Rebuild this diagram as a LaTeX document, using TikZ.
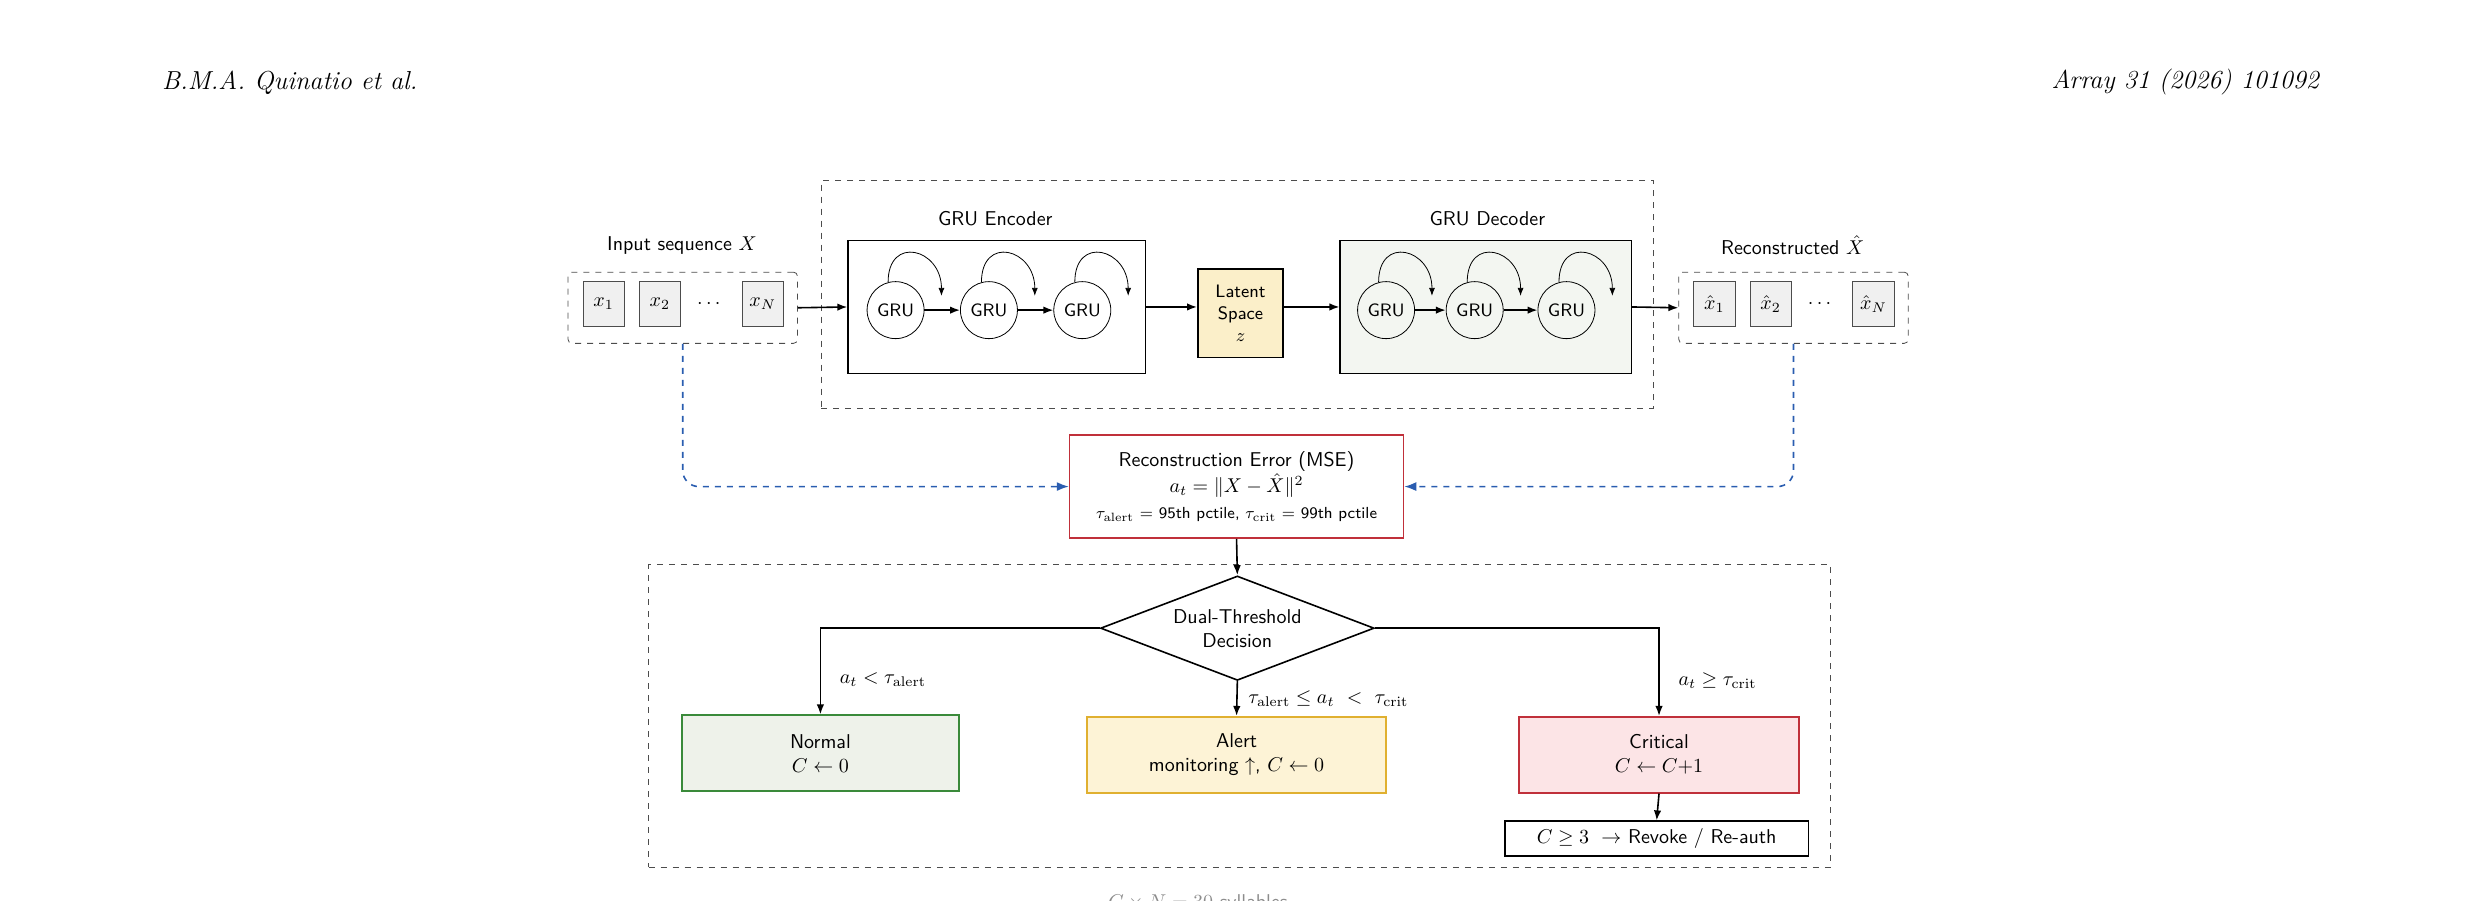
\documentclass[tikz,border=0pt]{standalone}
\usetikzlibrary{arrows.meta,shapes.geometric,calc}
\definecolor{mseRed}{HTML}{C0303A}
\definecolor{errBlue}{HTML}{2A5DB0}
\definecolor{okGreen}{HTML}{3A8A3A}
\definecolor{okFill}{HTML}{EEF2EA}
\definecolor{warnLine}{HTML}{E0B030}
\definecolor{warnFill}{HTML}{FDF3D6}
\definecolor{critFill}{HTML}{FCE4E6}
\definecolor{latFill}{HTML}{FBEFC9}
\definecolor{decFill}{HTML}{F3F6F1}
\tikzset{
  seqbox/.style={draw=black!70,fill=black!6,minimum width=20.6pt,minimum height=22.5pt,inner sep=0pt},
  groupbox/.style={draw=black!70,dashed,rounded corners=2pt,minimum width=114.7pt,minimum height=35.6pt},
  gru/.style={draw,circle,minimum size=28.5pt,inner sep=0pt,font=\sffamily\small},
  netbox/.style={draw,thick,minimum width=148.7pt,minimum height=66.4pt},
  outcome/.style={draw,thick,minimum height=38pt,align=center},
  arr/.style={-{Latex[length=5pt]},thick},
}
\begin{document}
\begin{tikzpicture}[x=0.791pt,y=-0.791pt,font=\sffamily]
\useasboundingbox (0,0) rectangle (1568,569);

% header
\node[anchor=west,font=\rmfamily\itshape\fontsize{13}{15}\selectfont] (hdrl) at (98,52) {B.M.A.\ Quinatio et al.};
\node[anchor=east,font=\rmfamily\itshape\fontsize{13}{15}\selectfont] (hdrr) at (1470,52) {Array 31 (2026) 101092};

%Shape: dashed frames
\node[draw=black!70,dashed,minimum width=416pt,minimum height=113.9pt] (ae) at (782,186) {};
\node[draw=black!70,dashed,minimum width=590.9pt,minimum height=151.1pt] (dzone) at (783.5,452.5) {};

% input sequence
\node[groupbox] (inbox) at (431.5,194.5) {};
\node (intitle) at (431,155) {Input sequence $X$};
\node[seqbox] (x1) at (381.5,192) {$x_1$};
\node[seqbox] (x2) at (417,192) {$x_2$};
\node (xdots) at (448,192) {$\cdots$};
\node[seqbox] (xn) at (482,192) {$x_N$};

% output sequence
\node[groupbox] (outbox) at (1133.5,194.5) {};
\node (outtitle) at (1133,155) {Reconstructed $\hat{X}$};
\node[seqbox] (y1) at (1083.5,192) {$\hat{x}_1$};
\node[seqbox] (y2) at (1119,192) {$\hat{x}_2$};
\node (ydots) at (1150,192) {$\cdots$};
\node[seqbox] (yn) at (1184,192) {$\hat{x}_N$};

% encoder / latent / decoder
\node[netbox] (enc) at (630,194) {};
\node (enctitle) at (629,138) {GRU Encoder};
\node[netbox,fill=decFill,minimum width=145.5pt] (dec) at (939,194) {};
\node (dectitle) at (940,138) {GRU Decoder};
\node[draw,thick,fill=latFill,minimum width=42.7pt,minimum height=44.3pt,align=center,font=\sffamily\small] (lat) at (784,198) {Latent\\Space\\$z$};

\foreach \n/\x in {e1/566,e2/625,e3/684,d1/876,d2/932,d3/990}{
  \node[gru] (\n) at (\x,196) {GRU};
  \draw[-{Latex[length=4pt]}] (\n.105) .. controls +(0,-30) and +(0,-30) .. ($(\n.center)+(29,-9)$);
}
\draw[arr] (e1) -- (e2);
\draw[arr] (e2) -- (e3);
\draw[arr] (d1) -- (d2);
\draw[arr] (d2) -- (d3);
\draw[arr] (inbox.east) -- (enc.west);
\draw[arr] (enc.east) -- (lat.west |- enc.east);
\draw[arr] (lat.east |- dec.west) -- (dec.west);
\draw[arr] (dec.east) -- (outbox.west);

% reconstruction error
\node[draw=mseRed,thick,fill=white,minimum width=166.9pt,minimum height=51.4pt,align=center] (mse) at (781.5,307.5)
  {Reconstruction Error (MSE)\\[1pt] $a_t = \|X - \hat{X}\|^2$\\[1pt]
   {\footnotesize $\tau_{\mathrm{alert}}$ = 95th pctile,\ $\tau_{\mathrm{crit}}$ = 99th pctile}};
\draw[errBlue,dashed,thick,rounded corners=8pt,-{Latex[length=6pt]}] (inbox.south) |- (mse.west);
\draw[errBlue,dashed,thick,rounded corners=8pt,-{Latex[length=6pt]}] (outbox.south) |- (mse.east);

% decision
\node[draw,thick,diamond,aspect=2.6,inner sep=0pt,minimum width=136.8pt,minimum height=52.2pt,align=center,fill=white] (thr) at (782,397) {Dual-Threshold\\Decision};
\draw[arr] (mse.south) -- (thr.north);

\node[outcome,draw=okGreen,fill=okFill,minimum width=138.4pt] (normal) at (518.5,476) {Normal\\$C \leftarrow 0$};
\node[outcome,draw=warnLine,fill=warnFill,minimum width=149.5pt] (alert) at (781.5,477) {Alert\\monitoring $\uparrow$,\ $C \leftarrow 0$};
\node[outcome,draw=mseRed,fill=critFill,minimum width=140pt] (crit) at (1048.5,477) {Critical\\$C \leftarrow C{+}1$};
\node[draw,thick,minimum width=151.9pt,minimum height=17.4pt,inner sep=1pt] (revoke) at (1047,530) {$C \geq 3\ \rightarrow$\ Revoke / Re-auth};

\draw[arr] (thr.west) -| (normal.north) node[pos=0.8,right=6pt] {$a_t < \tau_{\mathrm{alert}}$};
\draw[arr] (thr.south) -- (alert.north) node[midway,right=2pt] {$\tau_{\mathrm{alert}} \leq a_t\ <\ \tau_{\mathrm{crit}}$};
\draw[arr] (thr.east) -| (crit.north) node[pos=0.8,right=6pt] {$a_t \geq \tau_{\mathrm{crit}}$};
\draw[arr] (crit.south) -- (revoke.north);

% cut-off caption line
\node[text=black!45] (foot) at (757,571) {$C \times N = 30$ syllables};
\end{tikzpicture}
\end{document}
